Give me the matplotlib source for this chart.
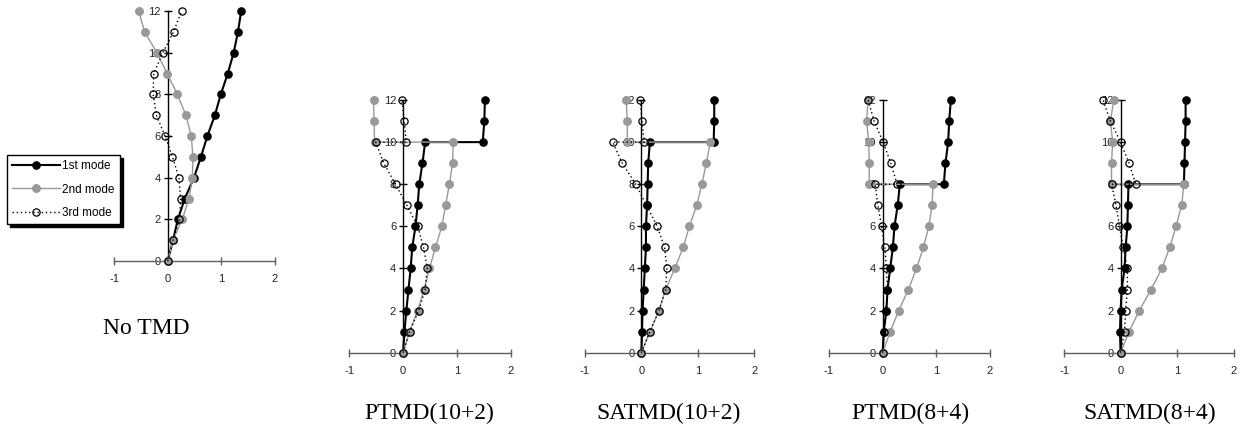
import matplotlib
matplotlib.use("Agg")
import matplotlib.pyplot as plt

plt.rcParams["axes.unicode_minus"] = False

# floor levels (the TMD floors repeat the connecting floor)
floors_plain = [0, 1, 2, 3, 4, 5, 6, 7, 8, 9, 10, 11, 12]
floors_10_2 = [0, 1, 2, 3, 4, 5, 6, 7, 8, 9, 10, 10, 11, 12]
floors_8_4 = [0, 1, 2, 3, 4, 5, 6, 7, 8, 8, 9, 10, 11, 12]

titles = ["No TMD", "PTMD(10+2)", "SATMD(10+2)", "PTMD(8+4)", "SATMD(8+4)"]
mode_names = ["1st mode", "2nd mode", "3rd mode"]

# No TMD
notmd_m1 = [0, 0.10, 0.19, 0.32, 0.49, 0.62, 0.74, 0.88, 0.99, 1.12, 1.23, 1.31, 1.37]
notmd_m2 = [0, 0.10, 0.27, 0.40, 0.46, 0.47, 0.44, 0.34, 0.18, -0.01, -0.20, -0.43, -0.54]
notmd_m3 = [0, 0.10, 0.22, 0.24, 0.21, 0.09, -0.05, -0.21, -0.27, -0.26, -0.09, 0.11, 0.26]

# PTMD(10+2)
ptmd102_m1 = [0, 0.025, 0.06, 0.10, 0.14, 0.17, 0.23, 0.27, 0.30, 0.36, 0.41, 1.48, 1.51, 1.52]
ptmd102_m2 = [0, 0.12, 0.27, 0.39, 0.49, 0.60, 0.72, 0.79, 0.86, 0.92, 0.93, -0.53, -0.54, -0.55]
ptmd102_m3 = [0, 0.12, 0.29, 0.41, 0.45, 0.38, 0.27, 0.07, -0.14, -0.36, -0.51, 0.06, 0.02, -0.02]

# SATMD(10+2)
satmd102_m1 = [0, 0.01, 0.02, 0.04, 0.06, 0.08, 0.08, 0.10, 0.11, 0.12, 0.15, 1.28, 1.29, 1.29]
satmd102_m2 = [0, 0.15, 0.31, 0.43, 0.59, 0.74, 0.85, 0.98, 1.07, 1.15, 1.22, -0.25, -0.25, -0.27]
satmd102_m3 = [0, 0.15, 0.31, 0.43, 0.45, 0.41, 0.28, 0.09, -0.10, -0.34, -0.51, 0.05, 0.01, -0.02]

# PTMD(8+4)
ptmd84_m1 = [0, 0.02, 0.07, 0.09, 0.14, 0.19, 0.22, 0.28, 0.32, 1.14, 1.17, 1.22, 1.24, 1.27]
ptmd84_m2 = [0, 0.14, 0.30, 0.48, 0.63, 0.76, 0.86, 0.92, 0.94, -0.25, -0.25, -0.26, -0.30, -0.27]
ptmd84_m3 = [0, 0.02, 0.06, 0.09, 0.07, 0.04, -0.02, -0.09, -0.14, 0.27, 0.15, 0.01, -0.16, -0.27]

# SATMD(8+4)
satmd84_m1 = [0, -0.01, 0.0, 0.02, 0.07, 0.09, 0.12, 0.13, 0.14, 1.12, 1.13, 1.14, 1.15, 1.15]
satmd84_m2 = [0, 0.15, 0.33, 0.54, 0.73, 0.87, 0.98, 1.08, 1.12, -0.16, -0.16, -0.14, -0.18, -0.12]
satmd84_m3 = [0, 0.07, 0.09, 0.12, 0.12, 0.05, -0.02, -0.08, -0.16, 0.27, 0.15, 0.0, -0.18, -0.31]

panels = [
    (floors_plain, notmd_m1, notmd_m2, notmd_m3),
    (floors_10_2, ptmd102_m1, ptmd102_m2, ptmd102_m3),
    (floors_10_2, satmd102_m1, satmd102_m2, satmd102_m3),
    (floors_8_4, ptmd84_m1, ptmd84_m2, ptmd84_m3),
    (floors_8_4, satmd84_m1, satmd84_m2, satmd84_m3),
]

W, H = 1240, 437
# axes boxes in pixels: x(-1), x(2), y(0), y(12)
boxes = [
    (114, 275, 261, 11),
    (349.3, 510.7, 352.7, 100),
    (585, 754.3, 352.7, 100),
    (829, 990, 352.7, 100),
    (1064, 1233.7, 352.7, 100),
]
# title centres in pixels
title_pos = [(146, 329), (429, 413), (669, 413), (910, 413), (1150, 413)]

fig = plt.figure(figsize=(W / 100, H / 100), dpi=100)

handles = None
for (fl, m1, m2, m3), (x0, x1, y0, y1) in zip(panels, boxes):
    ax = fig.add_axes([x0 / W, (H - y0) / H, (x1 - x0) / W, (y0 - y1) / H])
    l1, = ax.plot(m1, fl, color="black", lw=1.5, marker="o", ms=5.2,
                  mfc="black", mec="black", clip_on=False, zorder=3)
    l2, = ax.plot(m2, fl, color="#999999", lw=1.0, marker="o", ms=5.4,
                  mfc="#999999", mec="#999999", clip_on=False, zorder=4)
    l3, = ax.plot(m3, fl, color="black", lw=1.0, ls=(0, (1, 2)), marker="o",
                  ms=5.2, mfc="none", mec="black", mew=0.9, clip_on=False, zorder=5)
    if handles is None:
        handles = [l1, l2, l3]

    ax.set_xlim(-1, 2)
    ax.set_ylim(0, 12)
    ax.set_xticks([-1, 0, 1, 2])
    ax.set_yticks([0, 2, 4, 6, 8, 10, 12])
    ax.spines["top"].set_visible(False)
    ax.spines["right"].set_visible(False)
    ax.spines["left"].set_position(("data", 0))
    ax.spines["left"].set_color("black")
    ax.spines["left"].set_linewidth(1.0)
    ax.spines["bottom"].set_color("#606060")
    ax.spines["bottom"].set_linewidth(1.0)
    ax.patch.set_visible(False)
    ax.tick_params(axis="x", direction="inout", length=6, width=1, color="#606060",
                   pad=6.5, labelsize=8)
    ax.tick_params(axis="y", direction="inout", length=6, width=1, color="black",
                   pad=2, labelsize=8)
    for lab in ax.get_xticklabels() + ax.get_yticklabels():
        lab.set_family("Liberation Sans")
        lab.set_color("#222222")

for t, (px, py) in zip(titles, title_pos):
    fig.text(px / W, (H - py) / H, t, ha="center", va="center",
             family="Liberation Serif", fontsize=17)

leg = fig.legend(handles, mode_names, loc="upper left",
                 bbox_to_anchor=(7 / W, (H - 155) / H), borderaxespad=0,
                 prop={"family": "Liberation Sans", "size": 8.5},
                 handlelength=4.0, handletextpad=0.25, labelspacing=0.95,
                 borderpad=0.45, fancybox=False, numpoints=1,
                 shadow={"color": "black", "alpha": 1})
leg.get_frame().set_edgecolor("black")
leg.get_frame().set_linewidth(1.0)

fig.savefig("out.png", dpi=100)
